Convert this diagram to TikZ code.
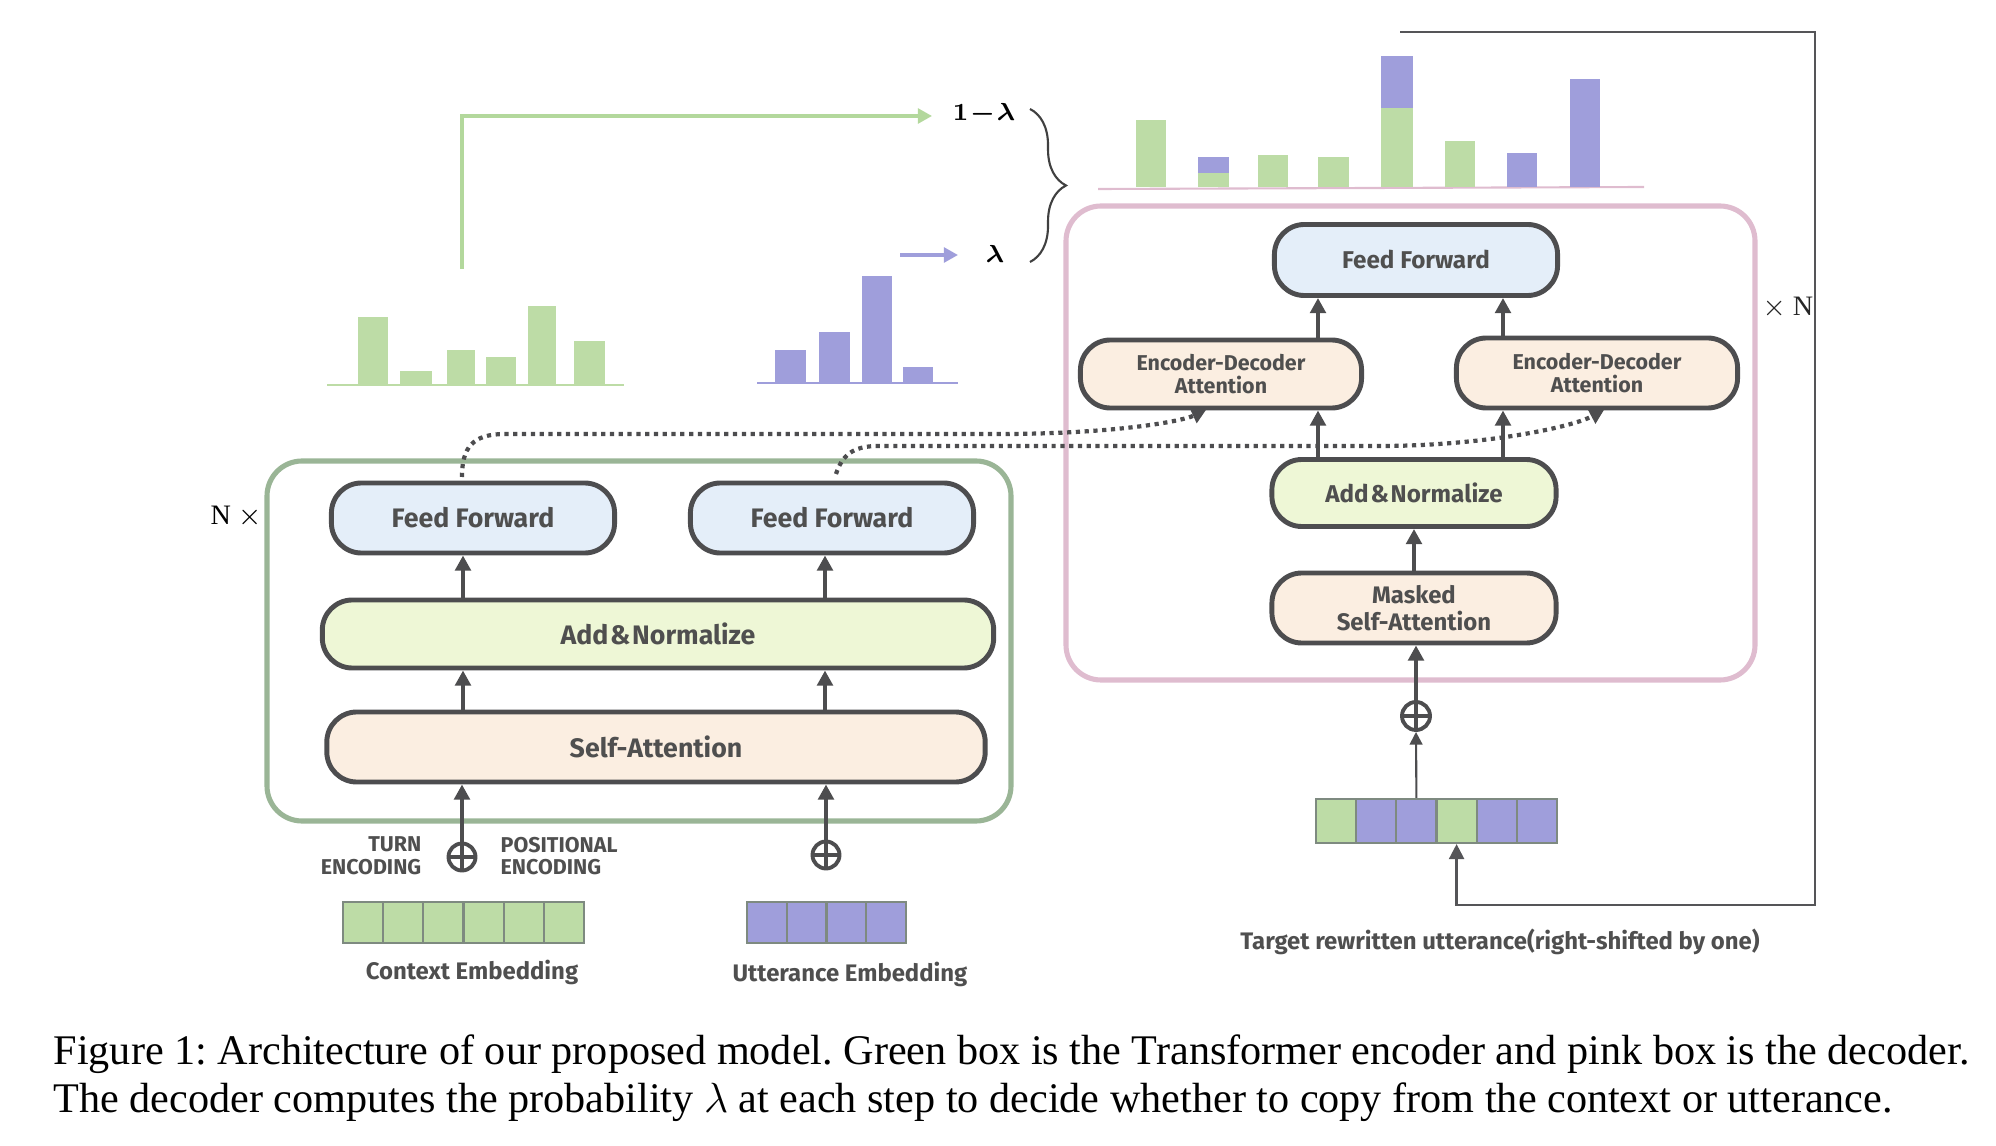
\documentclass[tikz,border=0pt]{standalone}
\usepackage{fontspec}
\usepackage{bm}
\setmainfont{Liberation Serif}
\newfontfamily\lblfont{Fira Sans}
\usetikzlibrary{arrows.meta,decorations.pathreplacing,calc}
\definecolor{edge}{HTML}{4D4D4F}
\definecolor{txt}{HTML}{4F4F4F}
\definecolor{fffill}{HTML}{E4EEF9}
\definecolor{anfill}{HTML}{EEF7D6}
\definecolor{atfill}{HTML}{FBEEE1}
\definecolor{encbox}{HTML}{9AB596}
\definecolor{decbox}{HTML}{DFBCCF}
\definecolor{bargreen}{HTML}{BDDCA6}
\definecolor{barpurple}{HTML}{9F9EDB}
\definecolor{cellline}{HTML}{7E8A80}
\definecolor{fbgray}{HTML}{555558}
\definecolor{arrgreen}{HTML}{B3D89C}
\newcommand{\andsign}{\hspace{0.5pt}\&\hspace{0.5pt}}
\begin{document}
\frenchspacing
\begin{tikzpicture}[x=0.01cm,y=-0.01cm,
  blockbase/.style={draw=edge, line width=1.4pt, rounded corners=0.3cm, inner sep=0pt, align=center, text=txt},
  ffbox/.style={blockbase, fill=fffill},
  anbox/.style={blockbase, fill=anfill},
  atbox/.style={blockbase, fill=atfill},
  encfont/.style={font=\lblfont\bfseries\fontsize{7.6}{8.5}\selectfont},
  decfont/.style={font=\lblfont\bfseries\fontsize{6.9}{7.7}\selectfont},
  edfont/.style={font=\lblfont\bfseries\fontsize{6.1}{6.4}\selectfont},
  arr/.style={draw=edge, line width=1.1pt, -{Triangle[length=4.3pt,width=4.4pt]}},
  thinarr/.style={draw=edge, line width=0.6pt, -{Triangle[length=3.6pt,width=3.6pt]}},
  dotarr/.style={draw=edge, line width=1.2pt, dash pattern=on 1.2pt off 1.3pt, -{Triangle[length=4pt,width=4.4pt]}},
  fbarr/.style={draw=fbgray, line width=0.65pt, -{Triangle[length=4.3pt,width=4.3pt]}},
  plusnode/.style={circle, draw=edge, line width=1.1pt, minimum size=0.27cm, inner sep=0pt,
     path picture={\draw[draw=edge, line width=0.9pt] (path picture bounding box.north) -- (path picture bounding box.south) (path picture bounding box.west) -- (path picture bounding box.east);}},
  cellbox/.style={draw=cellline, line width=0.6pt, inner sep=0pt},
  smalllbl/.style={text=txt, font=\lblfont\bfseries\fontsize{6.1}{6.4}\selectfont, inner sep=0pt},
  emblbl/.style={text=txt, font=\lblfont\bfseries\fontsize{6.8}{7.5}\selectfont, inner sep=0pt}
]
\useasboundingbox (0,0) rectangle (1996,1146);

% ---------- encoder ----------
\draw[draw=encbox, line width=1.45pt, rounded corners=0.35cm] (267,461) rectangle (1011,821);
\node[font=\fontsize{8}{9}\selectfont, inner sep=0pt] (nx) at (236,517) {N $\times$};

\node[ffbox, encfont, minimum width=2.83cm, minimum height=0.70cm] (effL) at (473,518) {Feed Forward};
\node[ffbox, encfont, minimum width=2.83cm, minimum height=0.70cm] (effR) at (832,518) {Feed Forward};
\node[anbox, encfont, minimum width=6.71cm, minimum height=0.68cm] (eadd) at (658,634) {Add\andsign Normalize};
\node[atbox, encfont, minimum width=6.58cm, minimum height=0.70cm] (esa) at (656,747) {Self-Attention};

\coordinate (xl) at (463,0);
\coordinate (xr) at (825,0);
\draw[arr] (esa.north -| xl) -- (eadd.south -| xl);
\draw[arr] (esa.north -| xr) -- (eadd.south -| xr);
\draw[arr] (eadd.north -| xl) -- (effL.south -| xl);
\draw[arr] (eadd.north -| xr) -- (effR.south -| xr);

\node[plusnode] (pL) at (462,857) {};
\node[plusnode] (pR) at (826,855) {};
\draw[arr] (pL.north) -- (esa.south -| pL);
\draw[arr] (pR.north) -- (esa.south -| pR);

\node[smalllbl, anchor=east, align=right] (turn) at (422,856) {TURN\\ENCODING};
\node[smalllbl, anchor=west, align=left] (pos) at (500,856) {POSITIONAL\\ENCODING};

\foreach \i in {1,...,6}{\node[cellbox, fill=bargreen, minimum width=0.402cm, minimum height=0.41cm] (ctx\i) at ({343+40.17*(\i-0.5)},922.5) {};}
\foreach \i in {1,...,4}{\node[cellbox, fill=barpurple, minimum width=0.3975cm, minimum height=0.41cm] (utt\i) at ({747+39.75*(\i-0.5)},922.5) {};}
\node[emblbl] (ctxl) at (472,972) {Context Embedding};
\node[emblbl] (uttl) at (850,974) {Utterance Embedding};

% ---------- charts (left) ----------
\draw[draw=bargreen, line width=0.6pt] (327,385) -- (624,385);
\foreach \a/\b/\t in {358/388/317, 400/432/371, 447/475/350, 486/516/357, 528/556/306, 574/605/341}
  {\fill[bargreen] (\a,\t) rectangle (\b,384);}
\draw[draw=barpurple, line width=0.6pt] (757,383) -- (958,383);
\foreach \a/\b/\t in {775/806/350, 819/850/332, 862/892/276, 903/933/367}
  {\fill[barpurple] (\a,\t) rectangle (\b,382);}

\coordinate (gs) at (462,269);
\coordinate (gt) at (932,116);
\coordinate (ps) at (900,255);
\coordinate (pt) at (958,255);
\node[inner sep=1pt, font=\fontsize{7}{7.5}\selectfont] (oml) at (984,114) {$\bm{1\!-\!\lambda}$};
\node[inner sep=1pt, font=\fontsize{7}{7.5}\selectfont] (lam) at (995,254) {$\bm{\lambda}$};
\draw[draw=arrgreen, line width=0.9pt, -{Triangle[length=4pt,width=4.2pt]}] (gs) |- (gt);
\draw[draw=barpurple, line width=0.9pt, -{Triangle[length=4pt,width=4.2pt]}] (ps) -- (pt);
\draw[draw=black!75, line width=0.6pt, decorate, decoration={brace, amplitude=0.36cm}] (1030,109) -- (1030,262);

% ---------- decoder ----------
\draw[draw=decbox, line width=1.45pt, rounded corners=0.35cm] (1066,206) rectangle (1755,680);
\node[text=black!85, font=\fontsize{8}{9}\selectfont, inner sep=0pt] (xn) at (1788,308) {$\times$ N};

\draw[draw=decbox, line width=0.6pt] (1098,189) -- (1644,187);
\foreach \a/\b/\t in {1136/1166/120, 1198/1229/173, 1258/1288/155, 1318/1349/157, 1381/1413/108, 1445/1475/141}
  {\fill[bargreen] (\a,\t) rectangle (\b,187);}
\fill[barpurple] (1198,157) rectangle (1229,173);
\fill[barpurple] (1381,56) rectangle (1413,108);
\fill[barpurple] (1507,153) rectangle (1537,187);
\fill[barpurple] (1570,79) rectangle (1600,187);

\node[ffbox, decfont, minimum width=2.83cm, minimum height=0.71cm] (dff) at (1416,260) {Feed Forward};
\node[atbox, edfont, minimum width=2.81cm, minimum height=0.68cm] (dedL) at (1221,374) {Encoder-Decoder\\Attention};
\node[atbox, edfont, minimum width=2.81cm, minimum height=0.70cm] (dedR) at (1597,373) {Encoder-Decoder\\Attention};
\node[anbox, decfont, minimum width=2.84cm, minimum height=0.67cm] (dadd) at (1414,493) {Add\andsign Normalize};
\node[atbox, font=\lblfont\bfseries\fontsize{6.8}{7.8}\selectfont, minimum width=2.84cm, minimum height=0.70cm] (dmsa) at (1414,608) {Masked\\Self-Attention};

\coordinate (dxl) at (1318,0);
\coordinate (dxr) at (1503,0);
\draw[arr] (dmsa.north) -- (dadd.south);
\draw[arr] (dadd.north -| dxl) -- (dedL.south -| dxl);
\draw[arr] (dadd.north -| dxr) -- (dedR.south -| dxr);
\draw[arr] (dedL.north -| dxl) -- (dff.south -| dxl);
\draw[arr] (dedR.north -| dxr) -- (dff.south -| dxr);

\node[plusnode, minimum size=0.28cm] (pD) at (1416,716) {};
\draw[arr] (pD.north) -- (dmsa.south -| pD);

\foreach \i/\c in {1/bargreen,2/barpurple,3/barpurple,4/bargreen,5/barpurple,6/barpurple}
  {\node[cellbox, fill=\c, minimum width=0.402cm, minimum height=0.44cm] (tc\i) at ({1316+40.17*(\i-0.5)},821) {};}
\draw[thinarr] (tc3.north) -- (pD.south);
\node[emblbl, font=\lblfont\bfseries\fontsize{6.8}{7.5}\selectfont] (tgtl) at (1500,942) {Target rewritten utterance(right-shifted by one)};

% feedback loop
\coordinate (fb0) at (1400,32);
\coordinate (fb1) at (1815,32);
\coordinate (fb2) at (1815,905);
\draw[fbarr] (fb0) -- (fb1) -- (fb2) -| (tc4.south);

% dotted encoder -> decoder
\coordinate (ds1) at (462,477);
\coordinate (ds2) at (836,474);
\coordinate (de1) at (1206,410);
\coordinate (de2) at (1604,410);
\draw[dotarr] (ds1) .. controls (462,448) and (472,434) .. (505,434) -- (1000,434) .. controls (1110,434) and (1180,422) .. (de1);
\draw[dotarr] (ds2) .. controls (842,456) and (852,446) .. (878,446) -- (1380,446) .. controls (1480,446) and (1570,428) .. (de2);

% ---------- caption ----------
\node[anchor=base west, inner sep=0pt, font=\fontsize{12.0}{14}\selectfont] (cap1) at (53,1064) {Figure 1: Architecture of our proposed model. Green box is the Transformer encoder and pink box is the decoder.};
\node[anchor=base west, inner sep=0pt, font=\fontsize{12.0}{14}\selectfont] (cap2) at (53,1112) {The decoder computes the probability $\lambda$ at each step to decide whether to copy from the context or utterance.};
\end{tikzpicture}
\end{document}
